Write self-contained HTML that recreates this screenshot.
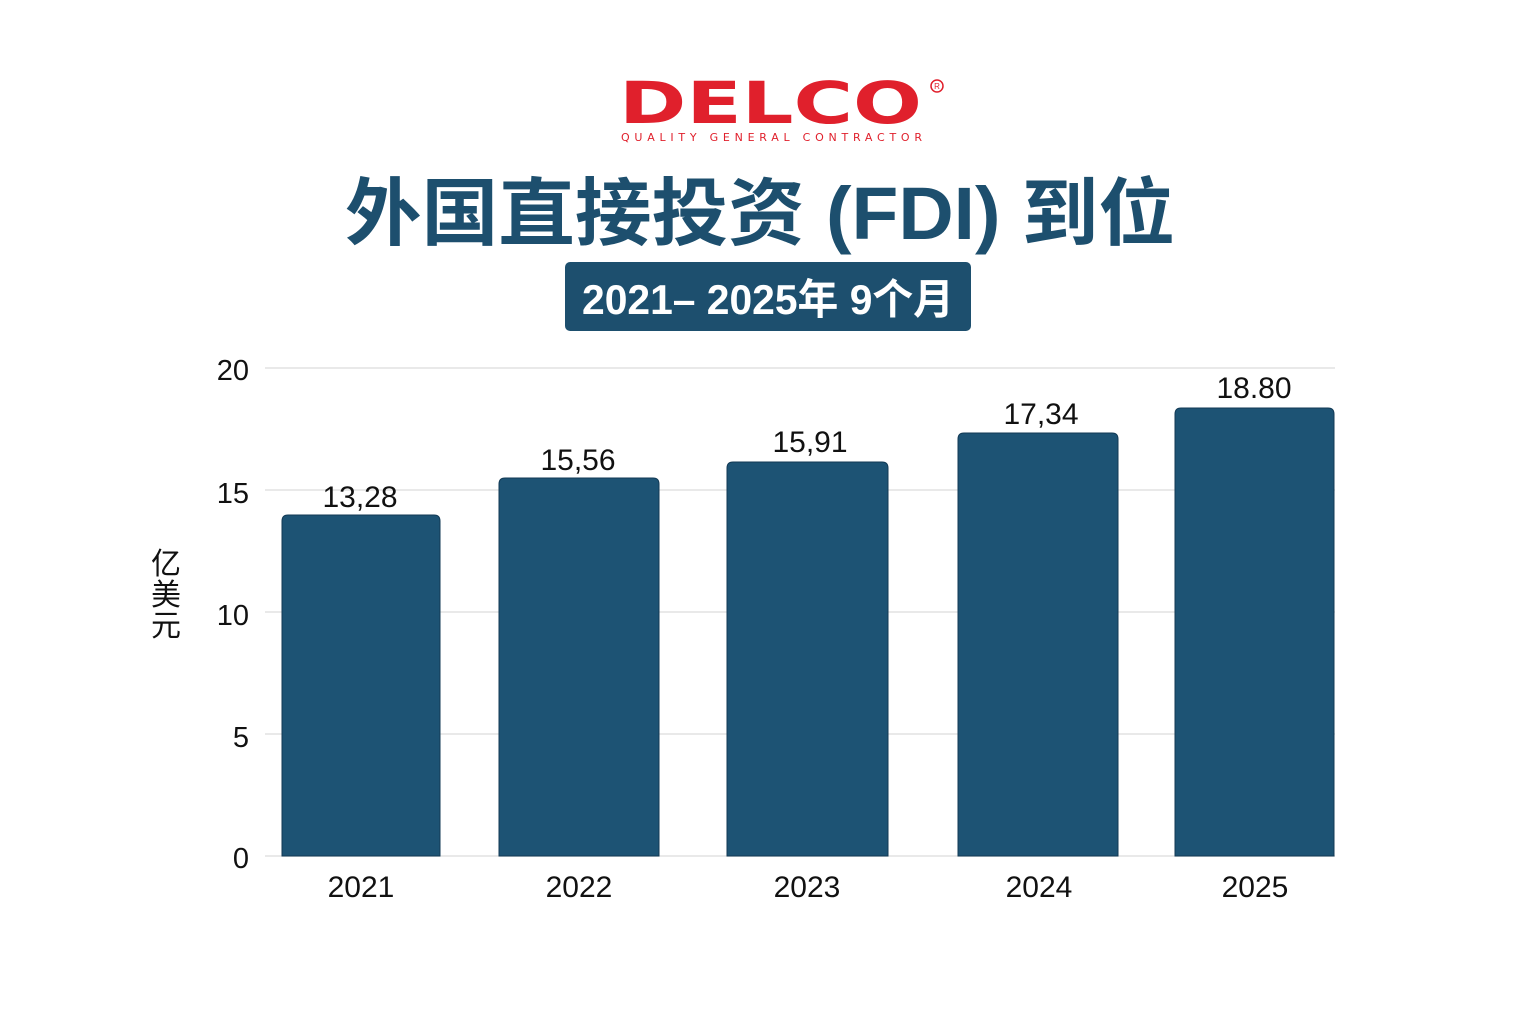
<!DOCTYPE html>
<html><head><meta charset="utf-8"><style>
html,body{margin:0;padding:0;background:#fff;}
svg{display:block;}
</style></head><body>
<svg width="1536" height="1024" viewBox="0 0 1536 1024" xmlns="http://www.w3.org/2000/svg" font-family="'Liberation Sans','Noto Sans CJK SC',sans-serif">
<rect width="1536" height="1024" fill="#fff"/>
<!-- logo -->
<text x="619" y="123" font-size="58" font-weight="bold" fill="#e0202c" textLength="303" lengthAdjust="spacingAndGlyphs" font-family="'DejaVu Sans',sans-serif">DELCO</text>
<circle cx="937" cy="86" r="6" fill="none" stroke="#e0202c" stroke-width="1.5"/>
<text x="937" y="89" font-size="8" fill="#e0202c" text-anchor="middle">R</text>
<text x="621" y="141" font-size="11" fill="#e0202c" textLength="301" lengthAdjust="spacing" font-family="'DejaVu Sans',sans-serif">QUALITY  GENERAL  CONTRACTOR</text>
<!-- title -->
<text x="345" y="239" font-size="74" font-weight="bold" fill="#1d4f6e" textLength="830" lengthAdjust="spacingAndGlyphs">外国直接投资 (FDI) 到位</text>
<rect x="565" y="262" width="406" height="69" rx="5" fill="#1d4f6e"/>
<text x="768" y="314" font-size="42" font-weight="bold" fill="#fff" text-anchor="middle" textLength="372" lengthAdjust="spacingAndGlyphs">2021– 2025年 9个月</text>
<!-- grid -->
<g stroke="#e2e2e2" stroke-width="1.5">
<line x1="265" y1="368" x2="1335" y2="368"/>
<line x1="265" y1="490" x2="1335" y2="490"/>
<line x1="265" y1="612" x2="1335" y2="612"/>
<line x1="265" y1="734" x2="1335" y2="734"/>
<line x1="265" y1="856" x2="1335" y2="856"/>
</g>
<g font-size="29" fill="#111" text-anchor="end">
<text x="249" y="380">20</text>
<text x="249" y="503">15</text>
<text x="249" y="625">10</text>
<text x="249" y="747">5</text>
<text x="249" y="868">0</text>
</g>
<g font-size="30" fill="#111" text-anchor="middle">
<text x="166" y="574">亿</text>
<text x="166" y="605">美</text>
<text x="166" y="636">元</text>
</g>
<!-- bars -->
<g fill="#1d5374" stroke="#123a55" stroke-width="1">
<path d="M282 856 V521 Q282 515 288 515 H434 Q440 515 440 521 V856 Z"/>
<path d="M499 856 V484 Q499 478 505 478 H653 Q659 478 659 484 V856 Z"/>
<path d="M727 856 V468 Q727 462 733 462 H882 Q888 462 888 468 V856 Z"/>
<path d="M958 856 V439 Q958 433 964 433 H1112 Q1118 433 1118 439 V856 Z"/>
<path d="M1175 856 V414 Q1175 408 1181 408 H1328 Q1334 408 1334 414 V856 Z"/>
</g>
<g font-size="30" fill="#111" text-anchor="middle">
<text x="360" y="507">13,28</text>
<text x="578" y="470">15,56</text>
<text x="810" y="452">15,91</text>
<text x="1041" y="424">17,34</text>
<text x="1254" y="398">18.80</text>
</g>
<g font-size="30" fill="#111" text-anchor="middle">
<text x="361" y="897">2021</text>
<text x="579" y="897">2022</text>
<text x="807" y="897">2023</text>
<text x="1039" y="897">2024</text>
<text x="1255" y="897">2025</text>
</g>
</svg>
</body></html>
